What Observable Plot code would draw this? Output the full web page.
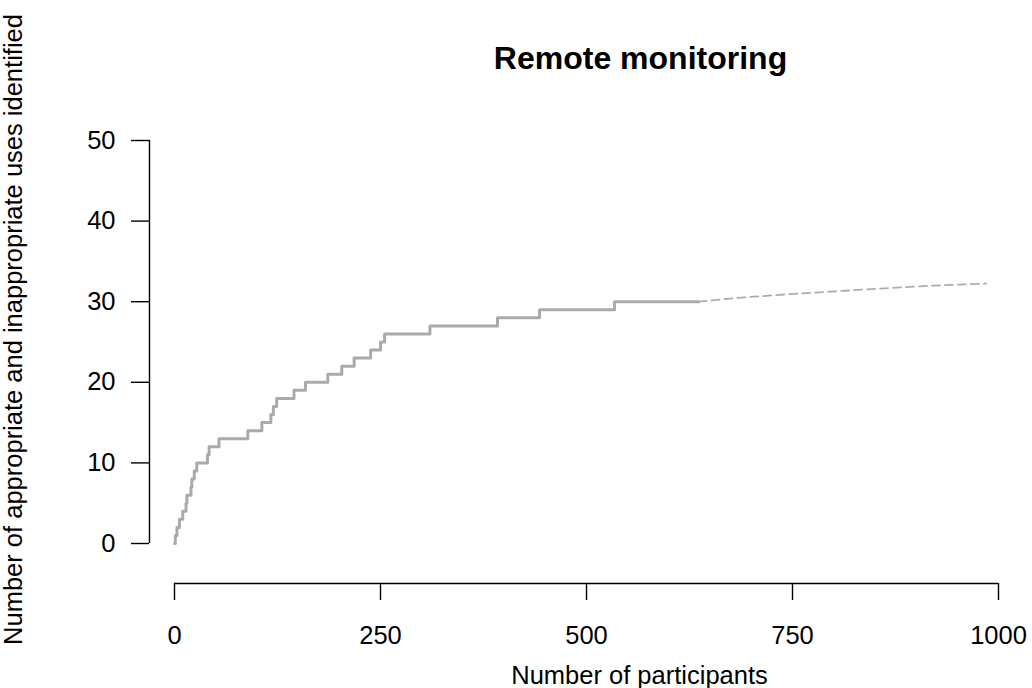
<!DOCTYPE html>
<html>
<head>
<meta charset="utf-8">
<script src="https://cdn.jsdelivr.net/npm/d3@7"></script>
<script src="https://cdn.jsdelivr.net/npm/@observablehq/plot@0.6"></script>
<style>
  html, body { margin: 0; padding: 0; background: #fff; }
  #chart { width: 1032px; height: 688px; overflow: hidden; }
  svg { font-family: "Liberation Sans", Arial, sans-serif; }
</style>
</head>
<body>
<div id="chart"></div>
<script>
// ---- Data ----
const titleText = "Remote monitoring";
const xLabel = "Number of participants";
const yLabel = "Number of appropriate and inappropriate uses identified";

// observed accumulation (step function)
const participants = [0, 1, 3, 6, 10, 14, 15, 20, 21, 24, 27, 40, 42, 54, 89, 106, 117, 120, 124, 145, 159, 186, 203, 218, 238, 250, 255, 310, 392, 443, 534, 636];
const uses =         [0, 1, 2, 3, 4, 5, 6, 7, 8, 9, 10, 11, 12, 13, 14, 15, 16, 17, 18, 19, 20, 21, 22, 23, 24, 25, 26, 27, 28, 29, 30, 30];

// extrapolation (dashed)
const extrapParticipants = [636, 687, 748, 812, 870, 921, 985];
const extrapUses =         [30.0, 30.5, 30.95, 31.35, 31.7, 32.0, 32.25];

const xTicks = [0, 250, 500, 750, 1000];
const yTicks = [0, 10, 20, 30, 40, 50];

const observed = participants.map((n, i) => ({n, v: uses[i]}));
const extrap = extrapParticipants.map((n, i) => ({n, v: extrapUses[i]}));

// ---- Layout (pixel frame) ----
const W = 1032, H = 688;
const mLeft = 149, mRight = 22, mTop = 100, mBottom = 105;
const xs = d3.scaleLinear([0, 1000], [174, 998]);
const ys = d3.scaleLinear([0, 50], [543, 140]);
const xDomain = [xs.invert(mLeft), xs.invert(W - mRight)];
const yDomain = [ys.invert(H - mBottom), ys.invert(mTop)];

const FS = 25.5;

const chart = Plot.plot({
  width: W,
  height: H,
  marginLeft: mLeft,
  marginRight: mRight,
  marginTop: mTop,
  marginBottom: mBottom,
  style: {fontFamily: "'Liberation Sans', Arial, sans-serif", color: "#000", background: "#fff"},
  x: {domain: xDomain},
  y: {domain: yDomain},
  marks: [
    Plot.ruleX([xDomain[0]], {y1: 0, y2: 50, stroke: "#000", strokeWidth: 1.4}),
    Plot.ruleY([yDomain[0]], {x1: 0, x2: 1000, stroke: "#000", strokeWidth: 1.4}),
    Plot.axisY({ticks: yTicks, tickSize: 18, tickPadding: 16, fontSize: FS, label: null, strokeWidth: 1.4, tickFormat: d => String(d)}),
    Plot.axisX({ticks: xTicks, tickSize: 17, tickPadding: 25, fontSize: FS, label: null, strokeWidth: 1.4, tickFormat: d => String(d)}),
    Plot.line(observed, {x: "n", y: "v", curve: "step-after", stroke: "#aaaaaa", strokeWidth: 3}),
    Plot.line(extrap, {x: "n", y: "v", stroke: "#adadad", strokeWidth: 1.8, strokeDasharray: "8,5"}),
    Plot.text([titleText], {frameAnchor: "top", text: d => d, textAnchor: "middle", dx: 60.5, dy: -32, lineAnchor: "bottom", fontSize: 32, fontWeight: "bold", fill: "#000"}),
    Plot.text([xLabel], {frameAnchor: "bottom", text: d => d, textAnchor: "middle", dx: 59.5, dy: 100, lineAnchor: "bottom", fontSize: FS, fill: "#000"}),
    Plot.text([yLabel], {frameAnchor: "left", text: d => d, textAnchor: "middle", rotate: -90, dx: -128, dy: -12.5, lineAnchor: "bottom", fontSize: FS, fill: "#000"})
  ]
});

document.getElementById("chart").appendChild(chart);
</script>
</body>
</html>
